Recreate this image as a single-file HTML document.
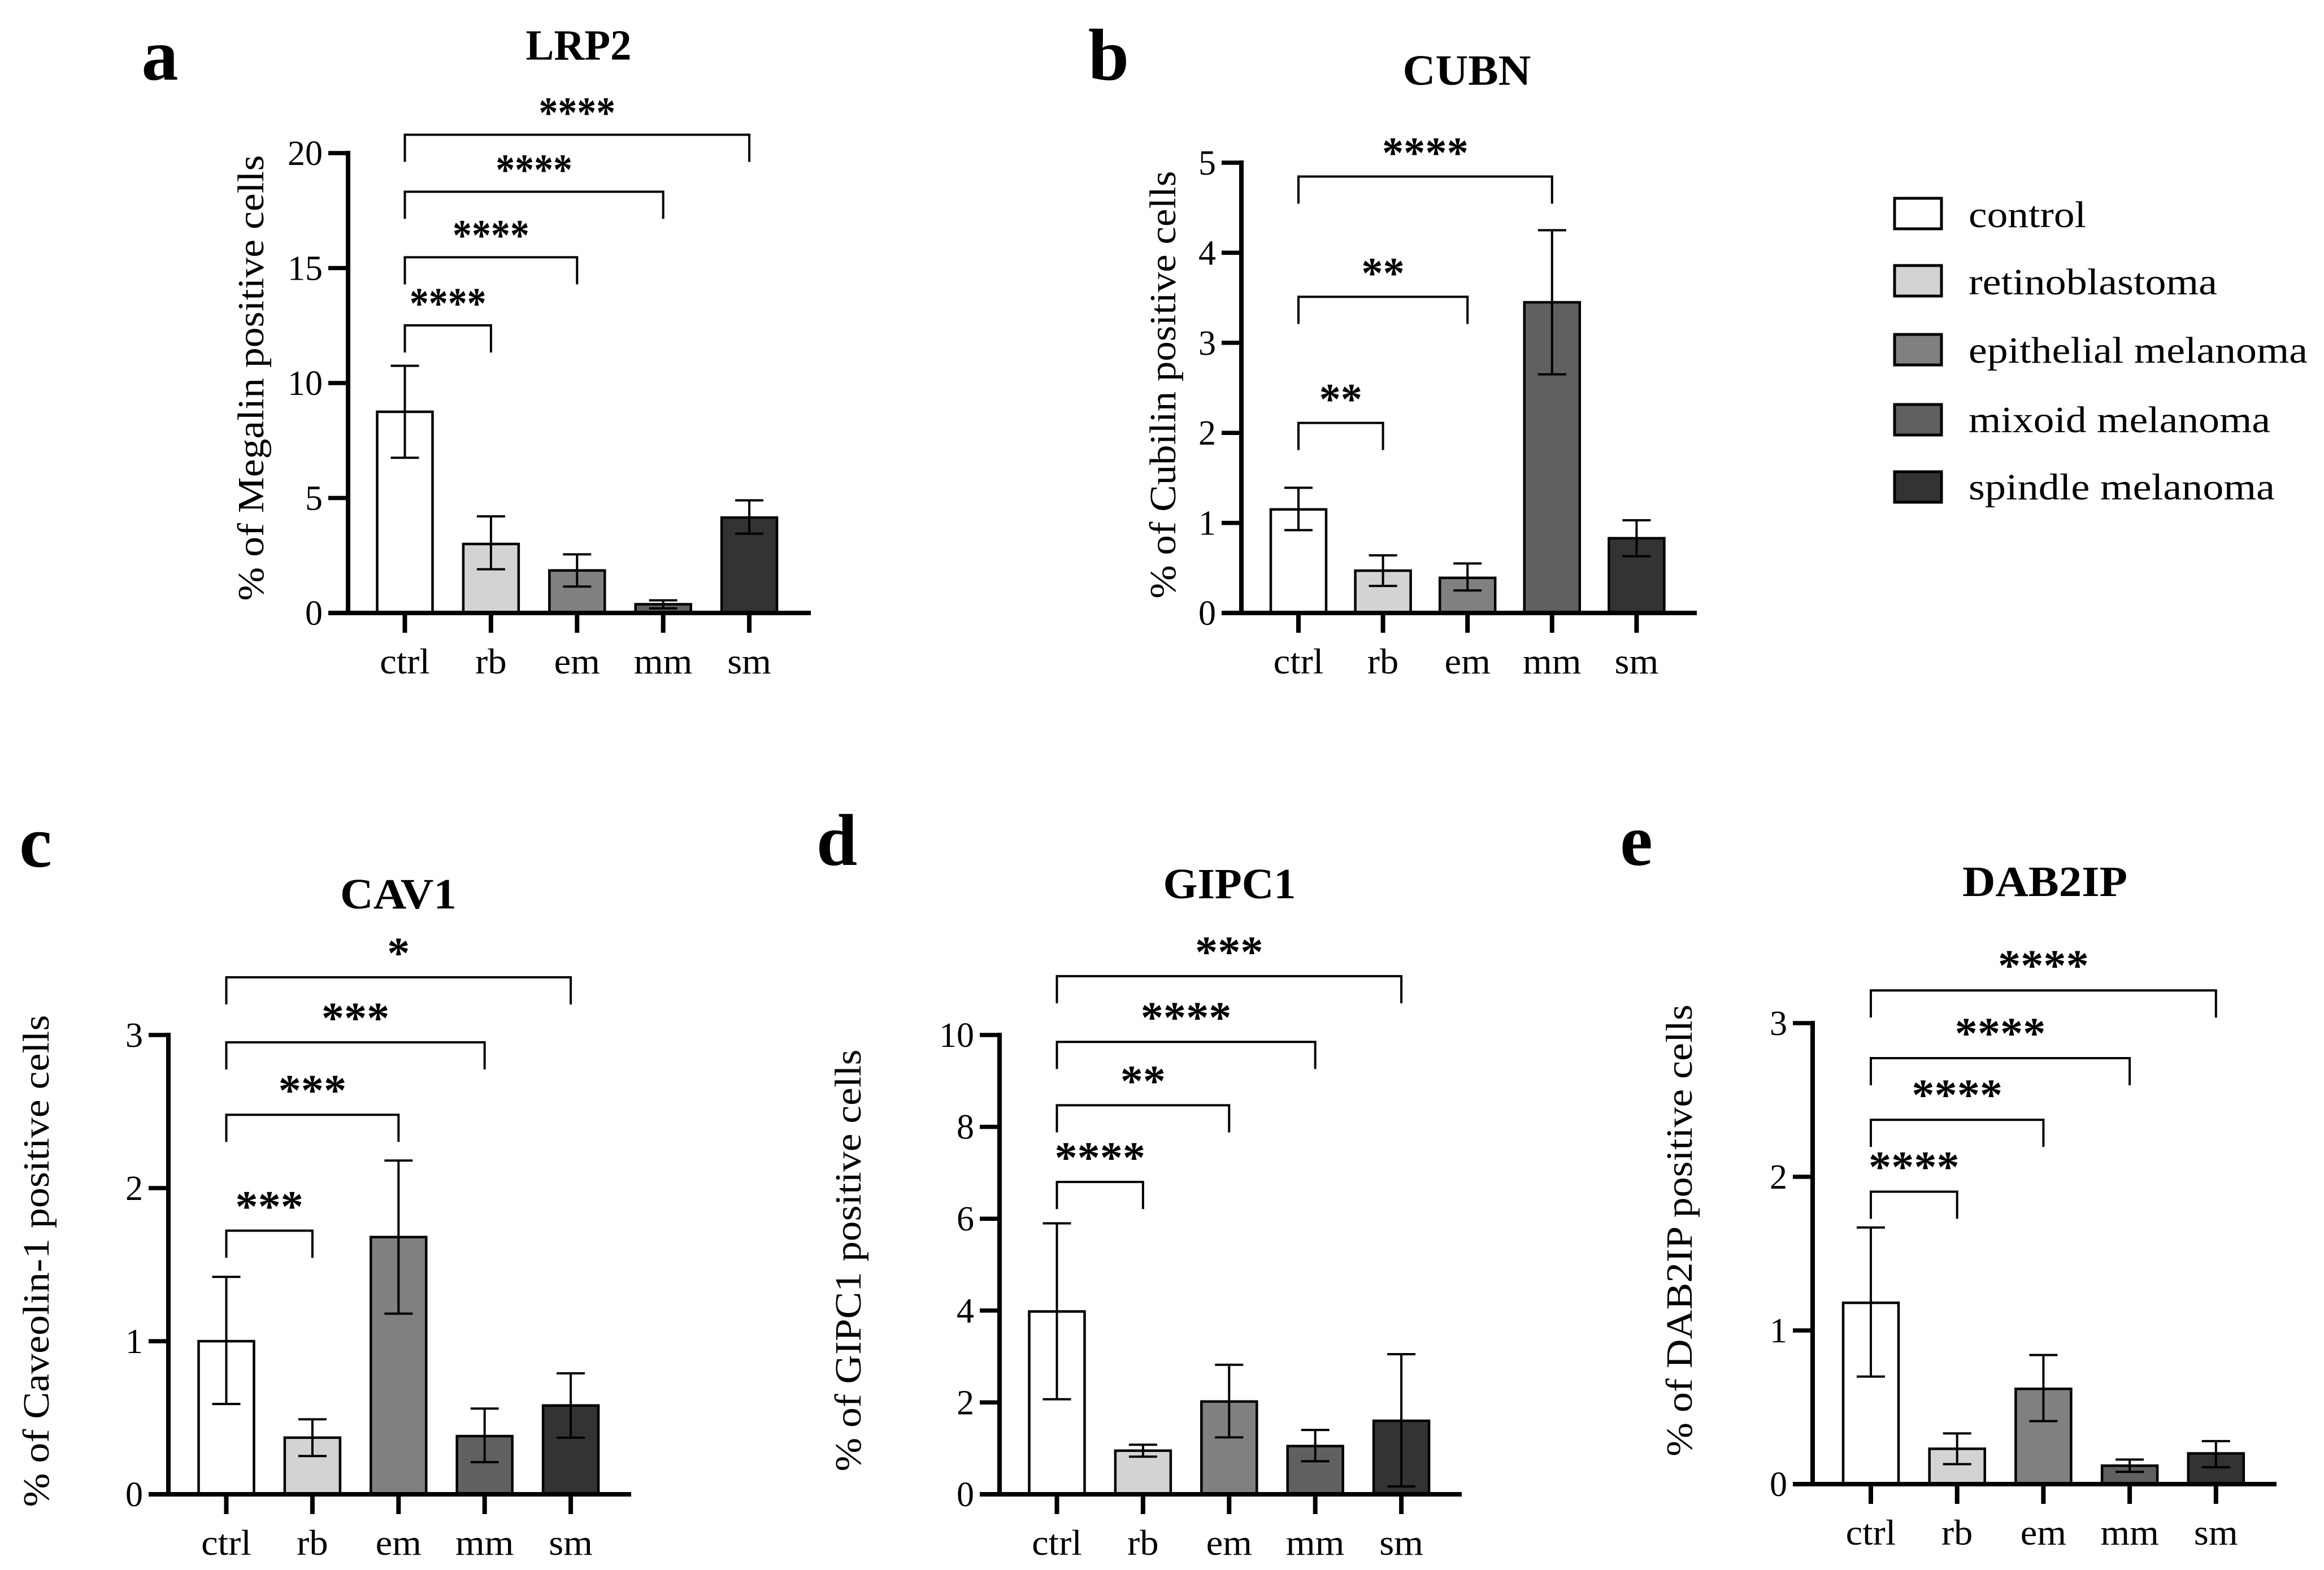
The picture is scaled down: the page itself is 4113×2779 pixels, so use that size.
<!DOCTYPE html>
<html lang="en">
<head>
<meta charset="utf-8">
<title>Endocytic receptor positive cells by tumour type</title>
<style>
html,body{margin:0;padding:0;background:#fff;}
svg{display:block;}
text{font-family:"Liberation Serif",serif;fill:#000;}
</style>
</head>
<body>
<svg id="figure" xmlns="http://www.w3.org/2000/svg" width="4113" height="2779" viewBox="0 0 4113 2779">
<rect width="4113" height="2779" fill="#fff"/>
<g>
<g><rect x="3353" y="351" width="83" height="54" fill="#ffffff" stroke="#000" stroke-width="5"/><text x="3484" y="402" font-size="66" textLength="208" lengthAdjust="spacingAndGlyphs">control</text></g>
<g><rect x="3353" y="470" width="83" height="54" fill="#d3d3d3" stroke="#000" stroke-width="5"/><text x="3484" y="521" font-size="66" textLength="440" lengthAdjust="spacingAndGlyphs">retinoblastoma</text></g>
<g><rect x="3353" y="592" width="83" height="54" fill="#808080" stroke="#000" stroke-width="5"/><text x="3484" y="642" font-size="66" textLength="600" lengthAdjust="spacingAndGlyphs">epithelial melanoma</text></g>
<g><rect x="3353" y="716" width="83" height="54" fill="#606060" stroke="#000" stroke-width="5"/><text x="3484" y="765" font-size="66" textLength="534" lengthAdjust="spacingAndGlyphs">mixoid melanoma</text></g>
<g><rect x="3353" y="835" width="83" height="54" fill="#333333" stroke="#000" stroke-width="5"/><text x="3484" y="884" font-size="66" textLength="542" lengthAdjust="spacingAndGlyphs">spindle melanoma</text></g>
</g>
</svg>
<script>
// ---- chart data ----
const categories = ['ctrl', 'rb', 'em', 'mm', 'sm'];

const lrp2Ticks = [0, 5, 10, 15, 20];
const lrp2Means = [8.75, 3.0, 1.85, 0.38, 4.15];
const lrp2Upper = [10.75, 4.2, 2.55, 0.55, 4.9];
const lrp2Lower = [6.75, 1.9, 1.15, 0.2, 3.45];
const lrp2BracketEnds = [1, 2, 3, 4];
const lrp2BracketLevels = [12.51, 15.47, 18.32, 20.8];
const lrp2Stars = ['****', '****', '****', '****'];

const cubnTicks = [0, 1, 2, 3, 4, 5];
const cubnMeans = [1.15, 0.47, 0.39, 3.45, 0.83];
const cubnUpper = [1.39, 0.64, 0.55, 4.25, 1.03];
const cubnLower = [0.92, 0.3, 0.25, 2.65, 0.63];
const cubnBracketEnds = [1, 2, 3];
const cubnBracketLevels = [2.11, 3.511, 4.846];
const cubnStars = ['**', '**', '****'];

const cav1Ticks = [0, 1, 2, 3];
const cav1Means = [1.0, 0.37, 1.68, 0.38, 0.58];
const cav1Upper = [1.42, 0.49, 2.18, 0.56, 0.79];
const cav1Lower = [0.59, 0.25, 1.18, 0.21, 0.37];
const cav1BracketEnds = [1, 2, 3, 4];
const cav1BracketLevels = [1.722, 2.479, 2.952, 3.377];
const cav1Stars = ['***', '***', '***', '*'];

const gipc1Ticks = [0, 2, 4, 6, 8, 10];
const gipc1Means = [3.98, 0.95, 2.02, 1.05, 1.6];
const gipc1Upper = [5.9, 1.08, 2.82, 1.4, 3.05];
const gipc1Lower = [2.07, 0.82, 1.24, 0.72, 0.17];
const gipc1BracketEnds = [1, 2, 3, 4];
const gipc1BracketLevels = [6.8, 8.47, 9.85, 11.28];
const gipc1Stars = ['****', '**', '****', '***'];

const dab2ipTicks = [0, 1, 2, 3];
const dab2ipMeans = [1.18, 0.23, 0.62, 0.12, 0.2];
const dab2ipUpper = [1.67, 0.33, 0.84, 0.16, 0.28];
const dab2ipLower = [0.7, 0.13, 0.41, 0.08, 0.11];
const dab2ipBracketEnds = [1, 2, 3, 4];
const dab2ipBracketLevels = [1.903, 2.371, 2.772, 3.213];
const dab2ipStars = ['****', '****', '****', '****'];

// ---- panel layout ----
const fills = ['#ffffff', '#d3d3d3', '#808080', '#606060', '#333333'];
const NS = 'http://www.w3.org/2000/svg';
const root = document.getElementById('figure');

function mk(parent, tag, attrs, txt) {
  const n = document.createElementNS(NS, tag);
  for (const k in attrs) n.setAttribute(k, attrs[k]);
  if (txt !== undefined) n.textContent = txt;
  parent.appendChild(n);
  return n;
}
function stretch(n, f) {
  const w = n.getComputedTextLength();
  n.setAttribute('textLength', (w * f).toFixed(1));
  n.setAttribute('lengthAdjust', 'spacingAndGlyphs');
}

function drawPanel(p) {
  const g = mk(root, 'g', {});
  
  

  const yMax = p.ticks[p.ticks.length - 1];
  const yPos = v => p.y0 - (p.y0 - p.yTop) * v / yMax;
  const xPos = i => p.x0 + i * p.step;

  const letter = mk(g, 'text', {x: p.letterX, y: p.letterY, 'font-size': 130, 'font-weight': 'bold', 'text-anchor': 'middle'}, p.letter);
  
  

  const title = mk(g, 'text', {x: p.titleX, y: p.titleY, 'font-size': 76, 'font-weight': 'bold', 'text-anchor': 'middle', textLength: p.titleW, lengthAdjust: 'spacingAndGlyphs'}, p.title);
  
  

  const yTitle = mk(g, 'text', {transform: 'translate(' + p.labelX + ',' + p.labelY + ') rotate(-90)', 'font-size': 66, 'text-anchor': 'middle', textLength: p.labelW, lengthAdjust: 'spacingAndGlyphs'}, p.label);
  
  

  // bars
  p.means.forEach((v, i) => {
    const bar = mk(g, 'rect', {x: xPos(i) - 49, y: yPos(v), width: 98, height: p.y0 - yPos(v), fill: fills[i], stroke: '#000', 'stroke-width': 4.5});
    
    
  });

  // error bars
  p.means.forEach((v, i) => {
    const eb = mk(g, 'path', {
      d: 'M' + (xPos(i) - 25) + ' ' + yPos(p.upper[i]) + 'H' + (xPos(i) + 25) +
         'M' + xPos(i) + ' ' + yPos(p.upper[i]) + 'V' + yPos(p.lower[i]) +
         'M' + (xPos(i) - 25) + ' ' + yPos(p.lower[i]) + 'H' + (xPos(i) + 25),
      fill: 'none', stroke: '#000', 'stroke-width': 4});
    
    
  });

  // axes
  const yAxis = mk(g, 'line', {x1: p.axisX, x2: p.axisX, y1: yPos(yMax) - 4, y2: p.y0 + 4, stroke: '#000', 'stroke-width': 8});
  
  

  const xAxis = mk(g, 'line', {x1: p.axisX - 35, x2: p.axisEnd, y1: p.y0, y2: p.y0, stroke: '#000', 'stroke-width': 8});
  
  

  p.ticks.forEach(t => {
    const tk = mk(g, 'line', {x1: p.axisX - 35, x2: p.axisX, y1: yPos(t), y2: yPos(t), stroke: '#000', 'stroke-width': 7.5});
    
    
    const tl = mk(g, 'text', {x: p.axisX - 45, y: yPos(t) + 21, 'font-size': 62, 'text-anchor': 'end'}, String(t));
    
    
  });

  categories.forEach((c, i) => {
    const tk = mk(g, 'line', {x1: xPos(i), x2: xPos(i), y1: p.y0, y2: p.y0 + 35, stroke: '#000', 'stroke-width': 8});
    
    
    const tl = mk(g, 'text', {x: xPos(i), y: p.catY, 'font-size': 64, 'text-anchor': 'middle'}, c);
    
    
    stretch(tl, 1.04);
  });

  // significance brackets
  p.ends.forEach((e, i) => {
    const by = yPos(p.levels[i]);
    const br = mk(g, 'path', {
      d: 'M' + xPos(0) + ' ' + (by + 48) + 'V' + by + 'H' + xPos(e) + 'V' + (by + 48),
      fill: 'none', stroke: '#000', 'stroke-width': 4});
    
    
    const st = mk(g, 'text', {x: (xPos(0) + xPos(e)) / 2, y: by - p.starGap + 34, 'font-size': 78, 'font-weight': 'bold', 'text-anchor': 'middle'}, p.stars[i]);
    
    
    stretch(st, p.starStretch);
  });
}

drawPanel({letter: 'a', title: 'LRP2', label: '% of Megalin positive cells',
  ticks: lrp2Ticks, means: lrp2Means, upper: lrp2Upper, lower: lrp2Lower,
  ends: lrp2BracketEnds, levels: lrp2BracketLevels, stars: lrp2Stars,
  x0: 716.5, step: 152.4, y0: 1085, yTop: 271, axisX: 616, axisEnd: 1435, catY: 1192,
  letterX: 283, letterY: 141, titleX: 1024, titleY: 105.5, titleW: 187,
  labelX: 466, labelY: 669, labelW: 789, starGap: 47, starStretch: 0.87});

drawPanel({letter: 'b', title: 'CUBN', label: '% of Cubilin positive cells',
  ticks: cubnTicks, means: cubnMeans, upper: cubnUpper, lower: cubnLower,
  ends: cubnBracketEnds, levels: cubnBracketLevels, stars: cubnStars,
  x0: 2298, step: 149.6, y0: 1085, yTop: 288, axisX: 2197, axisEnd: 3003, catY: 1192,
  letterX: 1962, letterY: 141, titleX: 2596, titleY: 150, titleW: 227,
  labelX: 2080, labelY: 681, labelW: 757, starGap: 50, starStretch: 0.98});

drawPanel({letter: 'c', title: 'CAV1', label: '% of Caveolin-1 positive cells',
  ticks: cav1Ticks, means: cav1Means, upper: cav1Upper, lower: cav1Lower,
  ends: cav1BracketEnds, levels: cav1BracketLevels, stars: cav1Stars,
  x0: 400.5, step: 152.4, y0: 2645, yTop: 1832, axisX: 298, axisEnd: 1117, catY: 2752,
  letterX: 63, letterY: 1534, titleX: 705, titleY: 1608, titleW: 206,
  labelX: 86, labelY: 2232, labelW: 871, starGap: 51, starStretch: 1.03});

drawPanel({letter: 'd', title: 'GIPC1', label: '% of GIPC1 positive cells',
  ticks: gipc1Ticks, means: gipc1Means, upper: gipc1Upper, lower: gipc1Lower,
  ends: gipc1BracketEnds, levels: gipc1BracketLevels, stars: gipc1Stars,
  x0: 1870.5, step: 152.4, y0: 2645, yTop: 1832, axisX: 1769, axisEnd: 2587, catY: 2752,
  letterX: 1481, letterY: 1531, titleX: 2176, titleY: 1590, titleW: 235,
  labelX: 1523, labelY: 2231, labelW: 747, starGap: 51, starStretch: 1.03});

drawPanel({letter: 'e', title: 'DAB2IP', label: '% of DAB2IP positive cells',
  ticks: dab2ipTicks, means: dab2ipMeans, upper: dab2ipUpper, lower: dab2ipLower,
  ends: dab2ipBracketEnds, levels: dab2ipBracketLevels, stars: dab2ipStars,
  x0: 3311, step: 152.7, y0: 2627, yTop: 1811, axisX: 3208, axisEnd: 4029, catY: 2734,
  letterX: 2896, letterY: 1531, titleX: 3619, titleY: 1586, titleW: 292,
  labelX: 2994, labelY: 2178, labelW: 800, starGap: 52, starStretch: 1.03});
</script>
</body>
</html>
